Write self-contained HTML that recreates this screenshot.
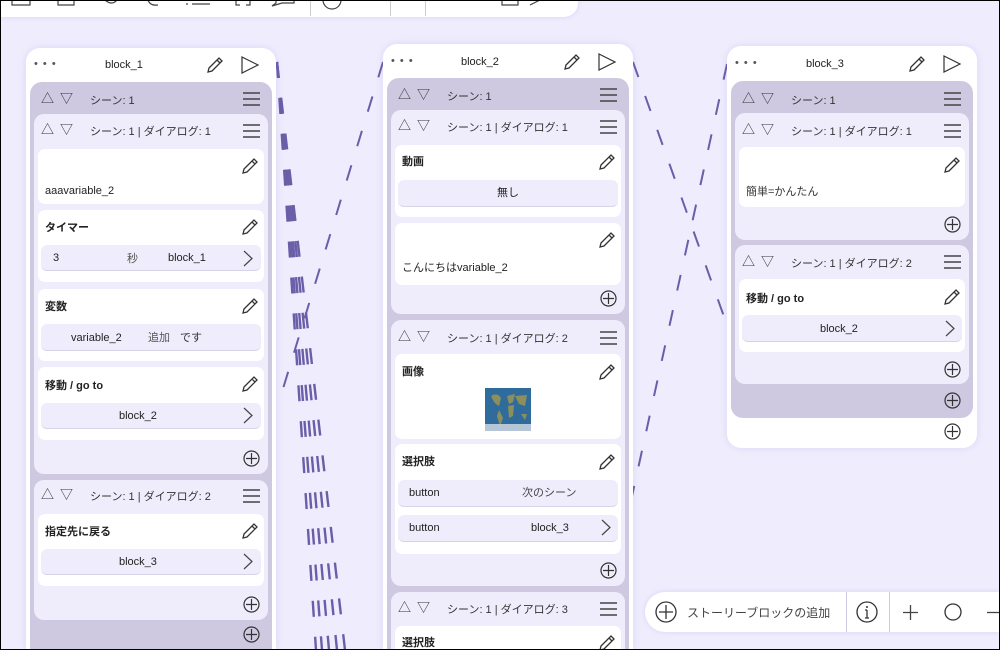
<!DOCTYPE html>
<html style="width:1000px;height:650px;overflow:hidden"><head><meta charset="utf-8"><style>
*{margin:0;padding:0;box-sizing:border-box}
html,body{overflow:hidden}
body{width:1000px;height:650px;overflow:hidden;background:#efedfd;font-family:"Liberation Sans","Noto Sans CJK JP",sans-serif;font-size:11px;color:#222;position:relative}
.a{position:absolute}
.card{position:absolute;background:#fff;border-radius:14px;box-shadow:0 0 8px rgba(120,110,200,.18)}
.scene{position:absolute;background:#cec9e1;border-radius:12px}
.dlg{position:absolute;background:#efedfb;border-radius:10px}
.it{position:absolute;background:#fff;border-radius:7px}
.row{position:absolute;background:#efedfb;border-radius:6px;border-bottom:1px solid #d8d4e8}
.t{position:absolute;white-space:nowrap;line-height:14px}
.b{font-weight:bold}
.hd{color:#333}
.tri{font-size:13px;letter-spacing:6px;color:#333}
svg.i{position:absolute;overflow:visible}
</style></head><body>
<div class="a" style="left:0;top:0;width:1000px;height:650px;border:1px solid #000;z-index:50;pointer-events:none"></div>
<!-- top toolbar -->
<div class="a" style="left:0;top:0;width:578px;height:17px;background:#fff;border-bottom-right-radius:14px;box-shadow:0 0 6px rgba(120,110,200,.2)"></div>
<div class="a" style="left:310px;top:0;width:1px;height:16px;background:#ccc"></div>
<div class="a" style="left:390px;top:0;width:1px;height:16px;background:#ccc"></div>
<div class="a" style="left:425px;top:0;width:1px;height:16px;background:#ccc"></div>
<svg class="i" style="left:0;top:0" width="578" height="17"><g fill="none" stroke="#444" stroke-width="1.2">
<path d="M12 0 V5 H30 V0"/><path d="M58 0 V5 H74 V0"/><path d="M105 0 Q112 6 117 0"/><path d="M148 0 Q150 6 158 5"/><path d="M192 4 H210 M186 4 h2"/><path d="M236 0 V5 H240 M246 5 H250 V0"/><path d="M276 0 V3 L272 6 L282 3 H294 V0"/><path d="M323 0 A9 9 0 0 0 341 0"/><path d="M502 0 V5 H518 V0"/><path d="M530 5 L540 0"/></g></svg>

<!-- connectors -->
<svg class="a" style="left:0;top:0" width="1000" height="650"><g fill="none" stroke="#6a5ea8" stroke-width="2.4" stroke-dasharray="16 20">
<path d="M277 62 L316 650"/><path d="M277 62 L322 650"/><path d="M277 62 L329 650"/><path d="M277 62 L337 650"/><path d="M277 62 L345 650"/>
</g><g fill="none" stroke="#6a5ea8" stroke-width="2" stroke-dasharray="16 20">
<path d="M383 62 L278 405"/>
<path d="M633 62 L727 325"/>
<path d="M727 64 L625 528"/>
</g></svg>

<!-- BLOCK 1 -->
<div class="card" style="left:26px;top:48px;width:250px;height:602px;border-bottom-left-radius:0;border-bottom-right-radius:0"></div>
<div class="t" style="left:34px;top:57px;color:#555;letter-spacing:1px">• • •</div>
<div class="t" style="left:105px;top:58px">block_1</div>
<svg class="i" style="left:206px;top:56px" width="18" height="18"><path d="M2 16 L3 12 L13 2 L16 5 L6 15 Z M11 4 L14 7" fill="none" stroke="#333" stroke-width="1.3"/></svg>
<svg class="i" style="left:241px;top:56px" width="18" height="18"><path d="M1 1 L17 9 L1 17 Z" fill="none" stroke="#333" stroke-width="1.2"/></svg>
<div class="scene" style="left:30px;top:82px;width:242px;height:568px;border-bottom-left-radius:0;border-bottom-right-radius:0"></div>
<div class="t tri" style="left:41px;top:92px">△▽</div><div class="t hd" style="left:90px;top:94px">シーン: 1</div>
<svg class="i" style="left:243px;top:92px" width="17" height="15"><path d="M0 1H17M0 7H17M0 13H17" stroke="#444" stroke-width="1.4"/></svg>
<div class="dlg" style="left:34px;top:114px;width:234px;height:360px"></div>
<div class="t tri" style="left:41px;top:123px">△▽</div><div class="t hd" style="left:90px;top:125px">シーン: 1 | ダイアログ: 1</div>
<svg class="i" style="left:243px;top:124px" width="17" height="15"><path d="M0 1H17M0 7H17M0 13H17" stroke="#444" stroke-width="1.4"/></svg>
<div class="it" style="left:38px;top:149px;width:226px;height:55px"></div>
<svg class="i" style="left:241px;top:157px" width="18" height="18"><path d="M2 16 L3 12 L13 2 L16 5 L6 15 Z M11 4 L14 7" fill="none" stroke="#333" stroke-width="1.3"/></svg>
<div class="t" style="left:45px;top:184px">aaavariable_2</div>
<div class="it" style="left:38px;top:210px;width:226px;height:72px"></div>
<div class="t b" style="left:45px;top:221px">タイマー</div>
<svg class="i" style="left:241px;top:218px" width="18" height="18"><path d="M2 16 L3 12 L13 2 L16 5 L6 15 Z M11 4 L14 7" fill="none" stroke="#333" stroke-width="1.3"/></svg>
<div class="row" style="left:41px;top:245px;width:220px;height:26px"></div>
<div class="t" style="left:53px;top:251px">3</div><div class="t" style="left:127px;top:252px;color:#555">秒</div><div class="t" style="left:168px;top:251px">block_1</div>
<svg class="i" style="left:243px;top:250px" width="10" height="17"><path d="M1 1 L9 8.5 L1 16" fill="none" stroke="#444" stroke-width="1.2"/></svg>
<div class="it" style="left:38px;top:289px;width:226px;height:72px"></div>
<div class="t b" style="left:45px;top:300px">変数</div>
<svg class="i" style="left:241px;top:297px" width="18" height="18"><path d="M2 16 L3 12 L13 2 L16 5 L6 15 Z M11 4 L14 7" fill="none" stroke="#333" stroke-width="1.3"/></svg>
<div class="row" style="left:41px;top:324px;width:220px;height:27px"></div>
<div class="t" style="left:71px;top:331px">variable_2</div><div class="t" style="left:148px;top:331px;color:#555">追加</div><div class="t" style="left:180px;top:331px;color:#333">です</div>
<div class="it" style="left:38px;top:367px;width:226px;height:73px"></div>
<div class="t b" style="left:45px;top:379px">移動 / go to</div>
<svg class="i" style="left:241px;top:375px" width="18" height="18"><path d="M2 16 L3 12 L13 2 L16 5 L6 15 Z M11 4 L14 7" fill="none" stroke="#333" stroke-width="1.3"/></svg>
<div class="row" style="left:41px;top:403px;width:220px;height:26px"></div>
<div class="t" style="left:119px;top:409px">block_2</div>
<svg class="i" style="left:243px;top:407px" width="10" height="17"><path d="M1 1 L9 8.5 L1 16" fill="none" stroke="#444" stroke-width="1.2"/></svg>
<svg class="i" style="left:243px;top:450px" width="17" height="17"><circle cx="8.5" cy="8.5" r="7.5" fill="none" stroke="#333" stroke-width="1.2"/><path d="M8.5 3V14M3 8.5H14" stroke="#333" stroke-width="1.2"/></svg>
<div class="dlg" style="left:34px;top:480px;width:234px;height:140px"></div>
<div class="t tri" style="left:41px;top:488px">△▽</div><div class="t hd" style="left:90px;top:490px">シーン: 1 | ダイアログ: 2</div>
<svg class="i" style="left:243px;top:489px" width="17" height="15"><path d="M0 1H17M0 7H17M0 13H17" stroke="#444" stroke-width="1.4"/></svg>
<div class="it" style="left:38px;top:514px;width:226px;height:72px"></div>
<div class="t b" style="left:45px;top:525px">指定先に戻る</div>
<svg class="i" style="left:241px;top:522px" width="18" height="18"><path d="M2 16 L3 12 L13 2 L16 5 L6 15 Z M11 4 L14 7" fill="none" stroke="#333" stroke-width="1.3"/></svg>
<div class="row" style="left:41px;top:549px;width:220px;height:26px"></div>
<div class="t" style="left:119px;top:555px">block_3</div>
<svg class="i" style="left:243px;top:553px" width="10" height="17"><path d="M1 1 L9 8.5 L1 16" fill="none" stroke="#444" stroke-width="1.2"/></svg>
<svg class="i" style="left:243px;top:596px" width="17" height="17"><circle cx="8.5" cy="8.5" r="7.5" fill="none" stroke="#333" stroke-width="1.2"/><path d="M8.5 3V14M3 8.5H14" stroke="#333" stroke-width="1.2"/></svg>
<svg class="i" style="left:243px;top:626px" width="17" height="17"><circle cx="8.5" cy="8.5" r="7.5" fill="none" stroke="#333" stroke-width="1.2"/><path d="M8.5 3V14M3 8.5H14" stroke="#333" stroke-width="1.2"/></svg>

<!-- BLOCK 2 -->
<div class="card" style="left:383px;top:44px;width:250px;height:606px;border-bottom-left-radius:0;border-bottom-right-radius:0"></div>
<div class="t" style="left:391px;top:54px;color:#555;letter-spacing:1px">• • •</div>
<div class="t" style="left:461px;top:55px">block_2</div>
<svg class="i" style="left:563px;top:53px" width="18" height="18"><path d="M2 16 L3 12 L13 2 L16 5 L6 15 Z M11 4 L14 7" fill="none" stroke="#333" stroke-width="1.3"/></svg>
<svg class="i" style="left:598px;top:53px" width="18" height="18"><path d="M1 1 L17 9 L1 17 Z" fill="none" stroke="#333" stroke-width="1.2"/></svg>
<div class="scene" style="left:387px;top:78px;width:242px;height:572px;border-bottom-left-radius:0;border-bottom-right-radius:0"></div>
<div class="t tri" style="left:398px;top:88px">△▽</div><div class="t hd" style="left:447px;top:90px">シーン: 1</div>
<svg class="i" style="left:600px;top:88px" width="17" height="15"><path d="M0 1H17M0 7H17M0 13H17" stroke="#444" stroke-width="1.4"/></svg>
<div class="dlg" style="left:391px;top:110px;width:234px;height:204px"></div>
<div class="t tri" style="left:398px;top:119px">△▽</div><div class="t hd" style="left:447px;top:121px">シーン: 1 | ダイアログ: 1</div>
<svg class="i" style="left:600px;top:120px" width="17" height="15"><path d="M0 1H17M0 7H17M0 13H17" stroke="#444" stroke-width="1.4"/></svg>
<div class="it" style="left:395px;top:145px;width:226px;height:72px"></div>
<div class="t b" style="left:402px;top:155px">動画</div>
<svg class="i" style="left:598px;top:153px" width="18" height="18"><path d="M2 16 L3 12 L13 2 L16 5 L6 15 Z M11 4 L14 7" fill="none" stroke="#333" stroke-width="1.3"/></svg>
<div class="row" style="left:398px;top:180px;width:220px;height:27px"></div>
<div class="t" style="left:497px;top:186px">無し</div>
<div class="it" style="left:395px;top:223px;width:226px;height:62px"></div>
<svg class="i" style="left:598px;top:231px" width="18" height="18"><path d="M2 16 L3 12 L13 2 L16 5 L6 15 Z M11 4 L14 7" fill="none" stroke="#333" stroke-width="1.3"/></svg>
<div class="t" style="left:402px;top:261px">こんにちはvariable_2</div>
<svg class="i" style="left:600px;top:290px" width="17" height="17"><circle cx="8.5" cy="8.5" r="7.5" fill="none" stroke="#333" stroke-width="1.2"/><path d="M8.5 3V14M3 8.5H14" stroke="#333" stroke-width="1.2"/></svg>
<div class="dlg" style="left:391px;top:320px;width:234px;height:266px"></div>
<div class="t tri" style="left:398px;top:330px">△▽</div><div class="t hd" style="left:447px;top:332px">シーン: 1 | ダイアログ: 2</div>
<svg class="i" style="left:600px;top:331px" width="17" height="15"><path d="M0 1H17M0 7H17M0 13H17" stroke="#444" stroke-width="1.4"/></svg>
<div class="it" style="left:395px;top:354px;width:226px;height:85px"></div>
<div class="t b" style="left:402px;top:365px">画像</div>
<svg class="i" style="left:598px;top:363px" width="18" height="18"><path d="M2 16 L3 12 L13 2 L16 5 L6 15 Z M11 4 L14 7" fill="none" stroke="#333" stroke-width="1.3"/></svg>
<svg class="i" style="left:485px;top:388px" width="46" height="43"><rect width="46" height="43" fill="#2f6c9c"/><path d="M6 8 Q12 4 16 10 L14 18 Q9 16 6 8Z M14 22 L18 30 L15 38 L12 28Z M22 8 L30 6 L28 14 L24 16Z M23 18 L29 17 L28 28 L24 30Z M30 8 L42 7 L40 18 L34 16Z M36 26 L42 26 L40 32Z" fill="#8c8f5c"/><rect y="36" width="46" height="7" fill="#d8dde5" opacity=".8"/></svg>
<div class="it" style="left:395px;top:444px;width:226px;height:110px"></div>
<div class="t b" style="left:402px;top:455px">選択肢</div>
<svg class="i" style="left:598px;top:453px" width="18" height="18"><path d="M2 16 L3 12 L13 2 L16 5 L6 15 Z M11 4 L14 7" fill="none" stroke="#333" stroke-width="1.3"/></svg>
<div class="row" style="left:398px;top:480px;width:220px;height:27px"></div>
<div class="t" style="left:409px;top:486px">button</div><div class="t" style="left:522px;top:486px;color:#444">次のシーン</div>
<div class="row" style="left:398px;top:515px;width:220px;height:27px"></div>
<div class="t" style="left:409px;top:521px">button</div><div class="t" style="left:531px;top:521px">block_3</div>
<svg class="i" style="left:601px;top:519px" width="10" height="17"><path d="M1 1 L9 8.5 L1 16" fill="none" stroke="#444" stroke-width="1.2"/></svg>
<svg class="i" style="left:600px;top:562px" width="17" height="17"><circle cx="8.5" cy="8.5" r="7.5" fill="none" stroke="#333" stroke-width="1.2"/><path d="M8.5 3V14M3 8.5H14" stroke="#333" stroke-width="1.2"/></svg>
<div class="dlg" style="left:391px;top:592px;width:234px;height:58px;border-bottom-left-radius:0;border-bottom-right-radius:0"></div>
<div class="t tri" style="left:398px;top:601px">△▽</div><div class="t hd" style="left:447px;top:603px">シーン: 1 | ダイアログ: 3</div>
<svg class="i" style="left:600px;top:602px" width="17" height="15"><path d="M0 1H17M0 7H17M0 13H17" stroke="#444" stroke-width="1.4"/></svg>
<div class="it" style="left:395px;top:626px;width:226px;height:24px;border-bottom-left-radius:0;border-bottom-right-radius:0"></div>
<div class="t b" style="left:402px;top:636px">選択肢</div>
<svg class="i" style="left:598px;top:634px" width="18" height="16"><path d="M2 16 L3 12 L13 2 L16 5 L6 15 Z M11 4 L14 7" fill="none" stroke="#333" stroke-width="1.3"/></svg>

<!-- BLOCK 3 -->
<div class="card" style="left:727px;top:46px;width:250px;height:402px"></div>
<div class="t" style="left:735px;top:56px;color:#555;letter-spacing:1px">• • •</div>
<div class="t" style="left:806px;top:57px">block_3</div>
<svg class="i" style="left:908px;top:55px" width="18" height="18"><path d="M2 16 L3 12 L13 2 L16 5 L6 15 Z M11 4 L14 7" fill="none" stroke="#333" stroke-width="1.3"/></svg>
<svg class="i" style="left:943px;top:55px" width="18" height="18"><path d="M1 1 L17 9 L1 17 Z" fill="none" stroke="#333" stroke-width="1.2"/></svg>
<div class="scene" style="left:731px;top:81px;width:242px;height:337px"></div>
<div class="t tri" style="left:742px;top:92px">△▽</div><div class="t hd" style="left:791px;top:94px">シーン: 1</div>
<svg class="i" style="left:944px;top:92px" width="17" height="15"><path d="M0 1H17M0 7H17M0 13H17" stroke="#444" stroke-width="1.4"/></svg>
<div class="dlg" style="left:735px;top:113px;width:234px;height:127px"></div>
<div class="t tri" style="left:742px;top:123px">△▽</div><div class="t hd" style="left:791px;top:125px">シーン: 1 | ダイアログ: 1</div>
<svg class="i" style="left:944px;top:124px" width="17" height="15"><path d="M0 1H17M0 7H17M0 13H17" stroke="#444" stroke-width="1.4"/></svg>
<div class="it" style="left:739px;top:147px;width:226px;height:60px"></div>
<svg class="i" style="left:943px;top:156px" width="18" height="18"><path d="M2 16 L3 12 L13 2 L16 5 L6 15 Z M11 4 L14 7" fill="none" stroke="#333" stroke-width="1.3"/></svg>
<div class="t" style="left:746px;top:185px;color:#333">簡単=かんたん</div>
<svg class="i" style="left:944px;top:216px" width="17" height="17"><circle cx="8.5" cy="8.5" r="7.5" fill="none" stroke="#333" stroke-width="1.2"/><path d="M8.5 3V14M3 8.5H14" stroke="#333" stroke-width="1.2"/></svg>
<div class="dlg" style="left:735px;top:245px;width:234px;height:139px"></div>
<div class="t tri" style="left:742px;top:255px">△▽</div><div class="t hd" style="left:791px;top:257px">シーン: 1 | ダイアログ: 2</div>
<svg class="i" style="left:944px;top:255px" width="17" height="15"><path d="M0 1H17M0 7H17M0 13H17" stroke="#444" stroke-width="1.4"/></svg>
<div class="it" style="left:739px;top:279px;width:226px;height:73px"></div>
<div class="t b" style="left:746px;top:292px">移動 / go to</div>
<svg class="i" style="left:943px;top:288px" width="18" height="18"><path d="M2 16 L3 12 L13 2 L16 5 L6 15 Z M11 4 L14 7" fill="none" stroke="#333" stroke-width="1.3"/></svg>
<div class="row" style="left:742px;top:315px;width:220px;height:27px"></div>
<div class="t" style="left:820px;top:322px">block_2</div>
<svg class="i" style="left:945px;top:320px" width="10" height="17"><path d="M1 1 L9 8.5 L1 16" fill="none" stroke="#444" stroke-width="1.2"/></svg>
<svg class="i" style="left:944px;top:361px" width="17" height="17"><circle cx="8.5" cy="8.5" r="7.5" fill="none" stroke="#333" stroke-width="1.2"/><path d="M8.5 3V14M3 8.5H14" stroke="#333" stroke-width="1.2"/></svg>
<svg class="i" style="left:944px;top:392px" width="17" height="17"><circle cx="8.5" cy="8.5" r="7.5" fill="none" stroke="#333" stroke-width="1.2"/><path d="M8.5 3V14M3 8.5H14" stroke="#333" stroke-width="1.2"/></svg>
<svg class="i" style="left:944px;top:423px" width="17" height="17"><circle cx="8.5" cy="8.5" r="7.5" fill="none" stroke="#333" stroke-width="1.2"/><path d="M8.5 3V14M3 8.5H14" stroke="#333" stroke-width="1.2"/></svg>

<!-- bottom toolbar -->
<div class="a" style="left:645px;top:592px;width:355px;height:40px;background:#fff;border-radius:20px 0 0 20px;box-shadow:0 0 6px rgba(120,110,200,.2)"></div>
<svg class="i" style="left:655px;top:601px" width="22" height="22"><circle cx="11" cy="11" r="10" fill="none" stroke="#333" stroke-width="1.3"/><path d="M11 4V18M4 11H18" stroke="#333" stroke-width="1.3"/></svg>
<div class="t" style="left:687px;top:606px;font-size:12px;color:#444">ストーリーブロックの追加</div>
<div class="a" style="left:846px;top:592px;width:1px;height:40px;background:#d0cce4"></div>
<svg class="i" style="left:856px;top:601px" width="22" height="22"><circle cx="11" cy="11" r="10" fill="none" stroke="#333" stroke-width="1.3"/><path d="M11 9V17M9 17H13M9 9H11" stroke="#333" stroke-width="1.3"/><circle cx="11" cy="6" r="1" fill="#333"/></svg>
<div class="a" style="left:889px;top:592px;width:1px;height:40px;background:#d0cce4"></div>
<svg class="i" style="left:903px;top:605px" width="15" height="15"><path d="M7.5 0V15M0 7.5H15" stroke="#444" stroke-width="1.3"/></svg>
<svg class="i" style="left:944px;top:603px" width="18" height="18"><circle cx="9" cy="9" r="8" fill="none" stroke="#333" stroke-width="1.3"/></svg>
<svg class="i" style="left:987px;top:605px" width="13" height="15"><path d="M0 7.5H13" stroke="#444" stroke-width="1.3"/></svg>
</body></html>
